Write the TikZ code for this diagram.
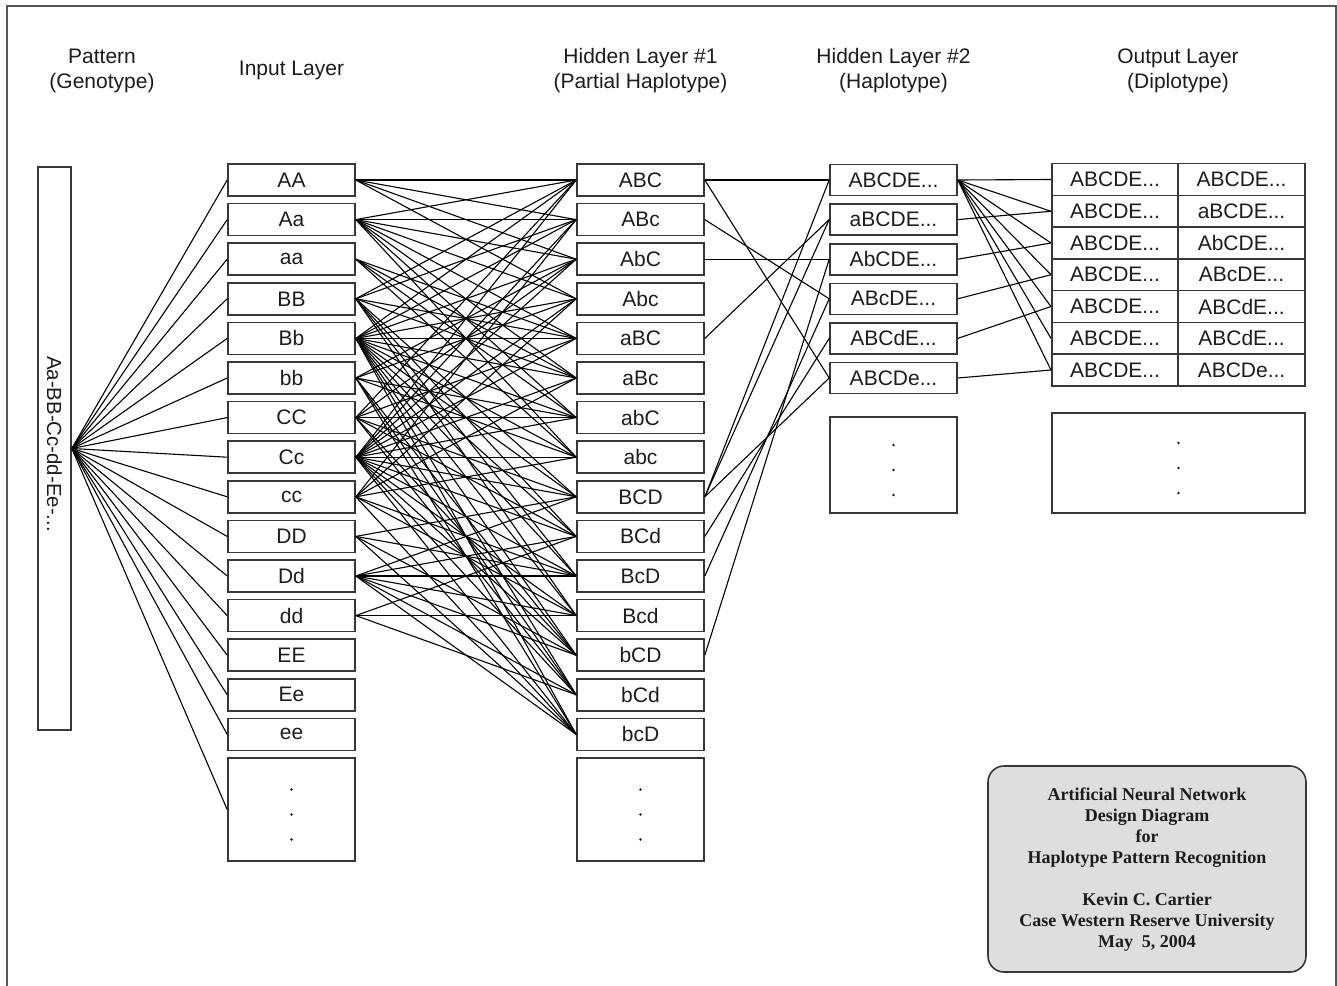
\documentclass[tikz,border=0pt]{standalone}
\usepackage{fontspec}
\setmainfont{Liberation Sans}
\newfontfamily\titlefont{Liberation Serif}
\definecolor{ink}{RGB}{28,28,28}
\definecolor{boxline}{RGB}{55,55,55}
\definecolor{panel}{RGB}{222,222,222}
\definecolor{framegray}{RGB}{85,85,85}

\begin{document}
\begin{tikzpicture}[x=.5pt,y=-.5pt,
 every node/.style={font=\fontsize{10.5}{12.5}\selectfont,text=ink},
 cell/.style={draw=boxline,line width=.8pt,minimum width=63.5pt,
   minimum height=16pt,inner sep=0pt},
 pair/.style={cell,minimum width=63.25pt,minimum height=15.9pt},
 more/.style={draw=boxline,line width=.8pt,inner sep=0pt,minimum width=63.5pt},
 link/.style={black,line width=.55pt},
 head/.style={align=center}]
\useasboundingbox (0,0) rectangle (1337,985);
\draw[framegray,line width=1.3pt] (7,1000)--(7,6)--(1336,6)--(1336,1000);

% column titles
\node[head] at (102,70.5) {Pattern\\(Genotype)};
\node[head] at (291.5,70) {Input Layer};
\node[head] at (640.5,70.5) {Hidden Layer \#1\\(Partial Haplotype)};
\node[head] at (893.5,70.5) {Hidden Layer \#2\\(Haplotype)};
\node[head] at (1178,70.5) {Output Layer\\(Diplotype)};

% pattern
\node[draw=boxline,line width=.8pt,minimum width=16.5pt,minimum height=281.5pt,
      inner sep=0pt] (pat) at (54.5,448.5) {};
\node[rotate=-90,font=\fontsize{10.2}{12}\selectfont] at (54.5,444) {Aa-BB-Cc-dd-Ee-...};

% input layer
\foreach \n [count=\i] in {AA,Aa,aa,BB,Bb,bb,CC,Cc,cc,DD,Dd,dd,EE,Ee,ee}
 \node[cell] (g\n) at (291.5,{180+(\i-1)*39.6}) {\n};
\node[more,minimum height=51.5pt] (gmore) at (291.5,809.5) {};

% hidden layer 1
\foreach \n [count=\i] in {ABC,ABc,AbC,Abc,aBC,aBc,abC,abc,BCD,BCd,BcD,Bcd,bCD,bCd,bcD}
 \node[cell] (h\n) at (640.5,{180+(\i-1)*39.6}) {\n};
\node[more,minimum height=51.5pt] (hmore) at (640.5,809.5) {};

% hidden layer 2
\foreach \n [count=\i] in {ABCDE,aBCDE,AbCDE,ABcDE,ABCdE,ABCDe}
 \node[cell,minimum height=15.5pt] (t\n) at (893.5,{180+(\i-1)*39.6}) {\n...};
\node[more,minimum height=48pt] (tmore) at (893.5,465) {};

% output layer
\foreach \r [count=\i] in {ABCDE,aBCDE,AbCDE,ABcDE,ABCdE,ABCdE,ABCDe}{
 \node[pair] (o\i) at (1115,{179.5+(\i-1)*31.75}) {ABCDE...};
 \node[pair] (p\i) at (1241.5,{179.5+(\i-1)*31.75}) {\r...};}
\node[more,minimum width=126.5pt,minimum height=50pt] (omore) at (1178.5,463) {};

\foreach \b in {gmore,hmore,tmore,omore}
 \foreach \d in {-20,5,30}
  \fill[ink] (\b.center) ++(0,\d) circle[radius=.65pt];

% pattern to inputs
\foreach \n in {AA,Aa,aa,BB,Bb,bb,CC,Cc,cc,DD,Dd,dd,EE,Ee,ee,more}
 \draw[link] (pat.east)--(g\n.west);

% inputs to partial haplotypes
\foreach \g/\hs in {AA/{ABC,ABc,AbC,Abc},
  Aa/{ABC,ABc,AbC,Abc,aBC,aBc,abC,abc},
  aa/{aBC,aBc,abC,abc},
  BB/{ABC,ABc,aBC,aBc,BCD,BCd,BcD,Bcd},
  Bb/{ABC,ABc,AbC,Abc,aBC,aBc,abC,abc,BCD,BCd,BcD,Bcd,bCD,bCd,bcD},
  bb/{AbC,Abc,abC,abc,bCD,bCd,bcD},
  CC/{ABC,AbC,aBC,abC,BCD,BCd,bCD,bCd},
  Cc/{ABC,ABc,AbC,Abc,aBC,aBc,abC,abc,BCD,BCd,BcD,Bcd,bCD,bCd,bcD},
  cc/{ABc,Abc,aBc,abc,BcD,Bcd,bcD},
  DD/{BCD,BcD,bCD,bcD},
  Dd/{BCD,BCd,BcD,Bcd,bCD,bCd,bcD},
  dd/{BCd,Bcd,bCd}}
 \foreach \h in \hs
  \draw[link] (g\g.east)--(h\h.west);

% partial haplotypes to haplotypes
\foreach \h/\t in {ABC/ABCDE,ABC/ABCDe,ABc/ABcDE,AbC/AbCDE,aBC/aBCDE,
  BCD/ABCDE,BCD/aBCDE,BCD/ABCDe,BCd/ABCdE,BcD/ABcDE,bCD/AbCDE}
 \draw[link] (h\h.east)--(t\t.west);

% haplotypes to diplotypes
\foreach \i in {1,...,7}
 \draw[link] (tABCDE.east)--(o\i.west);
\foreach \t/\i in {aBCDE/2,AbCDE/3,ABcDE/4,ABCdE/5,ABCDe/7}
 \draw[link] (t\t.east)--(o\i.west);

% title card
\draw[boxline,fill=panel,line width=.8pt,rounded corners=8pt]
 (988,766) rectangle (1306,972);
\node[align=center,font=\titlefont\bfseries\fontsize{9}{10.5}\selectfont]
 (card) at (1147,870) {Artificial Neural Network\\Design Diagram\\for\\
  Haplotype Pattern Recognition\\[10.5pt]Kevin C. Cartier\\
  Case Western Reserve University\\May\ \ 5, 2004};
\end{tikzpicture}
\end{document}
